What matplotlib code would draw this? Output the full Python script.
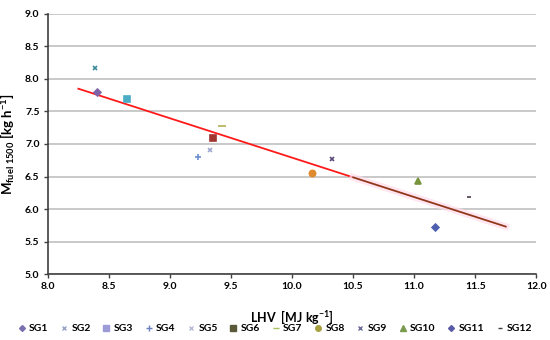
import matplotlib
matplotlib.use('Agg')
import matplotlib.pyplot as plt
from matplotlib.lines import Line2D

plt.rcParams['font.family'] = ['Lato', 'DejaVu Sans']
plt.rcParams['mathtext.fontset'] = 'custom'
plt.rcParams['mathtext.rm'] = 'Lato:bold'
plt.rcParams['mathtext.it'] = 'Lato:bold'
plt.rcParams['mathtext.bf'] = 'Lato:bold'
plt.rcParams['mathtext.default'] = 'rm'
plt.rcParams['axes.unicode_minus'] = False

# data
labels = ['SG1', 'SG2', 'SG3', 'SG4', 'SG5', 'SG6',
          'SG7', 'SG8', 'SG9', 'SG10', 'SG11', 'SG12']
lhv = [8.40, 8.39, 8.65, 9.23, 9.33, 9.35, 9.43, 10.16, 10.33, 11.03, 11.17, 11.45]
mfuel = [7.80, 8.17, 7.69, 6.80, 6.91, 7.09, 7.27, 6.56, 6.77, 6.43, 5.72, 6.19]
trend_x = [8.25, 11.75]
trend_y = [7.85, 5.73]

markers = ['D', 'x', 's', '+', 'x', 's', '_', 'o', 'x', '^', 'D', '_']
sizes = [3.5, 3.5, 4.5, 4.5, 3.5, 4.5, 5.5, 4.5, 3.5, 4.5, 3.5, 3.5]
plot_colors = ['#7f63a8', '#3d8a9a', '#4bacc6', '#6a8fcf', '#a0a8d0', '#a0362f',
               '#b0b050', '#e08a30', '#5a4a7a', '#77933c', '#4f5fb0', '#4a3a4a']
legend_colors = ['#7b6fb0', '#9aa4c8', '#9d9ad8', '#6b7fc0', '#b8bcd8', '#5a5a3a',
                 '#a8c060', '#a8a040', '#6a6a9a', '#7a9a50', '#5a5aa8', '#404040']

fig = plt.figure(figsize=(5.5, 3.4), dpi=100)
ax = fig.add_axes([0.087, 0.194, 0.888, 0.765])

ax.grid(axis='y', color='#c0c0c0', linewidth=1.2)
ax.set_axisbelow(True)

# trend line: red, then brownish with pink glow on the lower part
ax.plot(trend_x, trend_y, color='#ff1a1a', linewidth=1.3, zorder=2)
mx = 10.5
my = trend_y[0] + (trend_y[1] - trend_y[0]) * (mx - trend_x[0]) / (trend_x[1] - trend_x[0])
ax.plot([mx, trend_x[1]], [my, trend_y[1]], color='#ffdcea', linewidth=5, alpha=0.7, zorder=2)
ax.plot([mx, trend_x[1]], [my, trend_y[1]], color='#8a3a1a', linewidth=1.2, zorder=3)

for i in range(len(labels)):
    ax.plot(lhv[i], mfuel[i], marker=markers[i], markersize=sizes[i],
            color=plot_colors[i], linestyle='none', markeredgewidth=1.2, zorder=4)

ax.set_xlim(8.0, 12.0)
ax.set_ylim(5.0, 9.0)
ax.set_xticks([8.0, 8.5, 9.0, 9.5, 10.0, 10.5, 11.0, 11.5, 12.0])
ax.set_yticks([5.0, 5.5, 6.0, 6.5, 7.0, 7.5, 8.0, 8.5, 9.0])
ax.xaxis.set_major_formatter(matplotlib.ticker.FormatStrFormatter('%.1f'))
ax.yaxis.set_major_formatter(matplotlib.ticker.FormatStrFormatter('%.1f'))
for lab in ax.get_xticklabels() + ax.get_yticklabels():
    lab.set_fontweight('bold')
    lab.set_fontsize(7.5)
ax.tick_params(length=3, width=1, color='#404040', pad=3)
ax.spines['top'].set_visible(False)
ax.spines['right'].set_visible(False)
ax.spines['left'].set_color('#404040')
ax.spines['bottom'].set_color('#404040')
ax.spines['left'].set_linewidth(1.2)
ax.spines['bottom'].set_linewidth(1.2)

ax.set_xlabel(r'LHV  [MJ kg$^{-1}$]', fontsize=9, fontweight='bold', labelpad=12)
ax.set_ylabel(r'M$_{fuel\ 1500}$ [kg h$^{-1}$]', fontsize=9.5,
              fontweight='bold', labelpad=6)

handles = [Line2D([], [], marker=markers[i], markersize=sizes[i] - 0.5, color=legend_colors[i],
                  linestyle='none', markeredgewidth=1.0) for i in range(len(labels))]
leg = fig.legend(handles, labels, loc='lower center', bbox_to_anchor=(0.5, -0.005), ncol=12,
                 frameon=False, handlelength=0.8, handletextpad=0.3,
                 columnspacing=1.1, borderpad=0.3, prop={'weight': 'bold', 'size': 7.5})

fig.savefig('out.png', dpi=100)
